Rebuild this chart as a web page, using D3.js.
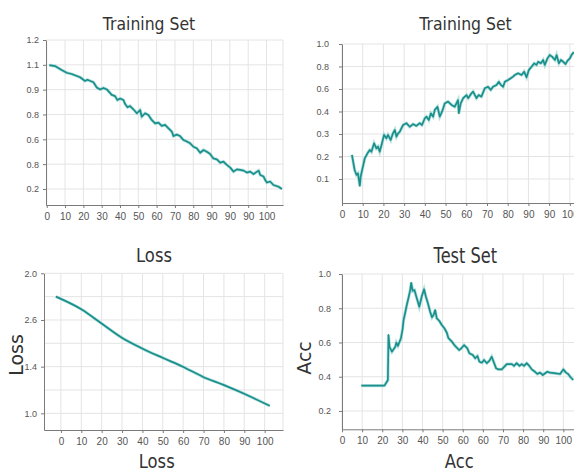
<!DOCTYPE html>
<html>
<head>
<meta charset="utf-8">
<script src="https://cdn.jsdelivr.net/npm/d3@7"></script>
<style>
body { margin: 0; background: #fff; }
svg { display: block; font-family: "DejaVu Sans", sans-serif; }
.grid line { stroke: #e4e4e4; stroke-width: 1; }
.axis path, .axis line { stroke: #7a7a7a; }
.axis text { fill: #555; }
.title, .label { fill: #333; }
</style>
</head>
<body>
<svg width="574" height="473"></svg>
<script>
// **** Tick labels (x ticks are evenly spaced 10 units apart) ****

var trainLossXLabels = ['0','10','20','30','40','50','60','70','80','90','90','90','100'];
var trainLossYLabels = ['0.2','0.8','0.6','0.8','0.9','1.1','1.2'];   // bottom to top

var trainAccXLabels = ['0','10','20','30','40','50','60','70','80','90','90','100'];
var trainAccYLabels = ['0.1','0.2','0.3','0.4','0.6','0.8','1.0'];

var lossXLabels = ['0','10','20','30','40','50','60','70','80','90','100'];
var lossYLabels = ['1.0','1.4','2.6','2.0'];

var testAccXLabels = ['0','10','20','30','40','50','60','60','70','80','90','100'];
var testAccYTicks = [0.2, 0.4, 0.6, 0.8, 1.0];

// **** Series: [x, y]; y for the first three panels is in tick steps from the lowest tick ****

var trainLoss = [
    [1.4,4.99],[4.5,4.95],[8.2,4.79],[10.9,4.68],[13.6,4.63],[18.2,4.50],[20.9,4.35],[22.2,4.40],
    [25.5,4.30],[27.3,4.09],[29.1,4.01],[31.0,4.07],[32.8,4.01],[35.5,3.79],[37.3,3.74],[38.6,3.58],
    [40.1,3.64],[41.9,3.58],[42.8,3.42],[44.1,3.29],[45.5,3.34],[47.3,3.21],[49.2,3.05],[51.0,3.18],
    [51.9,2.91],[53.7,3.05],[55.5,2.98],[57.3,2.78],[59.2,2.64],[61.0,2.67],[62.8,2.54],[64.6,2.58],
    [66.5,2.44],[68.3,2.31],[69.2,2.13],[71.0,2.19],[72.8,2.13],[74.7,1.97],[76.5,1.91],[78.3,1.84],
    [80.1,1.70],[81.9,1.64],[83.8,1.46],[85.6,1.57],[87.4,1.50],[89.2,1.41],[91.0,1.23],[92.9,1.19],
    [94.7,1.06],[96.5,1.10],[98.3,0.97],[100.2,0.86],[102.0,0.70],[103.8,0.79],[105.6,0.77],[107.5,0.74],
    [109.3,0.66],[111.1,0.70],[112.9,0.60],[114.8,0.70],[115.7,0.74],[116.6,0.56],[118.4,0.50],[119.3,0.36],
    [120.2,0.26],[122.0,0.30],[123.8,0.16],[126.6,0.09],[128.4,0.00]
];

var trainAcc = [
    [4.8,1.07],[6.1,0.40],[7.0,0.18],[7.7,0.25],[8.6,-0.31],[9.0,0.10],[10.1,0.55],[11.0,0.92],
    [12.3,1.14],[13.4,1.29],[14.2,1.21],[15.5,1.59],[16.6,1.36],[17.4,1.44],[18.2,1.21],[19.3,1.59],
    [20.3,1.96],[21.4,1.81],[22.2,1.96],[23.5,1.73],[24.6,2.03],[25.5,2.18],[26.3,1.88],[27.1,2.03],
    [27.9,2.10],[29.5,2.40],[31.1,2.48],[32.7,2.32],[34.3,2.44],[35.9,2.36],[37.5,2.48],[38.6,2.40],
    [40.0,2.70],[40.8,2.77],[41.9,2.62],[42.9,2.92],[44.0,2.77],[44.8,3.07],[46.1,3.21],[47.2,2.77],
    [48.3,2.99],[49.6,3.36],[51.2,3.44],[52.9,3.29],[54.4,3.21],[56.0,3.51],[56.4,2.92],[57.3,3.36],
    [58.5,3.59],[60.1,3.73],[60.9,3.59],[62.5,3.81],[63.3,3.88],[64.9,3.59],[66.0,3.73],[67.3,3.66],
    [68.9,4.03],[70.5,4.10],[71.8,3.96],[72.9,4.10],[74.6,4.18],[75.7,4.32],[76.7,4.18],[77.8,4.10],
    [78.6,4.32],[80.2,4.40],[81.5,4.48],[82.6,4.55],[83.4,4.62],[85.0,4.70],[86.7,4.62],[87.9,4.77],
    [89.1,4.52],[90.2,4.84],[91.5,4.99],[92.8,5.14],[93.9,5.07],[94.7,5.21],[96.0,5.14],[97.1,5.29],
    [97.9,5.07],[99.2,5.36],[100.3,5.51],[101.4,5.44],[102.8,5.29],[103.6,5.51],[104.7,5.14],[105.7,5.29],
    [106.8,5.21],[107.9,5.11],[108.9,5.26],[110.0,5.36],[110.8,5.51],[111.9,5.64]
];

var loss = [
    [-2.5,2.50],[10,2.23],[19.8,1.93],[29.9,1.62],[39.9,1.39],[49.9,1.19],
    [59.8,1.00],[69.8,0.78],[79.8,0.61],[89.4,0.43],[102.5,0.16]
];

var testAcc = [
    [9.6,0.348],[21.1,0.348],[22.3,0.371],[22.8,0.381],[23.1,0.644],[23.6,0.575],[24.8,0.546],[26.5,0.575],
    [27.0,0.599],[27.8,0.580],[29.3,0.625],[30.1,0.677],[30.6,0.731],[31.4,0.774],[32.2,0.819],[33.0,0.858],
    [33.9,0.906],[34.4,0.949],[35.1,0.902],[36.0,0.906],[36.7,0.877],[37.7,0.838],[38.4,0.809],[39.0,0.838],
    [39.7,0.872],[40.8,0.911],[41.7,0.867],[42.7,0.829],[43.8,0.780],[44.7,0.747],[45.5,0.761],[46.3,0.790],
    [47.1,0.741],[48.3,0.727],[49.6,0.702],[50.9,0.683],[52.1,0.657],[52.9,0.625],[54.6,0.605],[56.2,0.580],
    [58.2,0.556],[59.3,0.566],[60.7,0.585],[62.3,0.566],[63.3,0.537],[65.0,0.527],[66.2,0.508],[67.3,0.521],
    [68.3,0.488],[69.5,0.482],[70.6,0.498],[72.0,0.479],[73.3,0.494],[74.4,0.517],[76.6,0.449],[77.7,0.443],
    [79.4,0.443],[81.9,0.474],[84.4,0.474],[85.5,0.463],[86.8,0.479],[88.2,0.463],[89.3,0.474],[90.5,0.463],
    [91.8,0.479],[93.1,0.463],[94.3,0.443],[95.9,0.429],[97.1,0.416],[98.4,0.424],[99.8,0.410],[102.0,0.429],
    [103.4,0.424],[106.3,0.420],[108.4,0.416],[110.0,0.443],[111.3,0.424],[112.4,0.416],[113.6,0.397],[114.9,0.381]
];

var svg = d3.select('svg');

// **** one panel: grid, axes, line ****

function drawPanel(p) {
    var g = svg.append('g');
    var x0 = p.x.range()[0], x1 = p.x.range()[1];
    var y0 = p.y.range()[0], y1 = p.y.range()[1];

    var grid = g.append('g').attr('class', 'grid');
    grid.selectAll('.gx').data(p.xGrid).enter().append('line')
        .attr('x1', function(d) { return p.x(d); })
        .attr('x2', function(d) { return p.x(d); })
        .attr('y1', y0).attr('y2', y1);
    grid.selectAll('.gy').data(p.yGrid).enter().append('line')
        .attr('x1', x0).attr('x2', x1)
        .attr('y1', function(d) { return p.y(d); })
        .attr('y2', function(d) { return p.y(d); });

    g.append('g').attr('class', 'axis')
        .attr('transform', 'translate(0,' + y0 + ')')
        .call(d3.axisBottom(p.x).tickValues(p.xTicks).tickFormat(function(d, i) { return p.xLabels[i]; })
            .tickSize(3).tickSizeOuter(0).tickPadding(5))
        .selectAll('text').style('font-size', '10px');

    g.append('g').attr('class', 'axis')
        .attr('transform', 'translate(' + x0 + ',0)')
        .call(d3.axisLeft(p.y).tickValues(p.yTicks).tickFormat(function(d, i) { return p.yLabels[i]; })
            .tickSize(3).tickSizeOuter(0).tickPadding(p.yPad))
        .selectAll('text').style('font-size', '9px');

    var line = d3.line()
        .x(function(d) { return p.x(d[0]); })
        .y(function(d) { return p.y(d[1]); })
        .curve(p.curve || d3.curveLinear);

    g.append('path').datum(p.data)
        .attr('d', line)
        .attr('fill', 'none')
        .attr('stroke', '#86d0cc')
        .attr('stroke-width', 3.2)
        .attr('stroke-opacity', 0.6);
    g.append('path').datum(p.data)
        .attr('d', line)
        .attr('fill', 'none')
        .attr('stroke', '#1b8f8b')
        .attr('stroke-width', 1.7)
        .attr('stroke-linejoin', 'round');
}

function steps(labels, size) {
    return labels.map(function(d, i) { return i * size; });
}

function addText(cls, txt, x, y, size, sx, rot) {
    svg.append('text')
        .attr('class', cls)
        .attr('text-anchor', 'middle')
        .attr('transform', 'translate(' + x + ',' + y + ')' + (rot ? ' rotate(' + rot + ')' : '') + ' scale(' + sx + ',1)')
        .style('font-size', size + 'px')
        .text(txt);
}

// **** Training Set (loss) ****
drawPanel({
    x: d3.scaleLinear().domain([-0.4, 129]).range([46, 283]),
    y: d3.scaleLinear().domain([-0.645, 6]).range([205, 40]),
    xTicks: steps(trainLossXLabels, 10), xLabels: trainLossXLabels,
    yTicks: steps(trainLossYLabels, 1), yLabels: trainLossYLabels,
    xGrid: steps(trainLossXLabels, 10).concat([129]),
    yGrid: steps(trainLossYLabels, 1),
    yPad: 4,
    data: trainLoss
});

// **** Training Set (acc) ****
drawPanel({
    x: d3.scaleLinear().domain([0, 112]).range([342, 574]),
    y: d3.scaleLinear().domain([-1.067, 6]).range([203, 44]),
    xTicks: steps(trainAccXLabels, 10), xLabels: trainAccXLabels,
    yTicks: steps(trainAccYLabels, 1), yLabels: trainAccYLabels,
    xGrid: steps(trainAccXLabels, 10),
    yGrid: steps(trainAccYLabels, 1),
    yPad: 10,
    data: trainAcc
});

// **** Loss ****
drawPanel({
    x: d3.scaleLinear().domain([-8.3, 109]).range([44, 283]),
    y: d3.scaleLinear().domain([-0.357, 3]).range([430, 273.3]),
    xTicks: steps(lossXLabels, 10), xLabels: lossXLabels,
    yTicks: steps(lossYLabels, 1), yLabels: lossYLabels,
    xGrid: steps(lossXLabels, 10).concat([109]),
    yGrid: d3.range(0, 3.01, 0.5),
    yPad: 4,
    curve: d3.curveMonotoneX,
    data: loss
});

// **** Test Set ****
drawPanel({
    x: d3.scaleLinear().domain([0, 115.3]).range([342, 574]),
    y: d3.scaleLinear().domain([0.093, 1.0]).range([429.3, 274]),
    xTicks: steps(testAccXLabels, 10), xLabels: testAccXLabels,
    yTicks: testAccYTicks, yLabels: testAccYTicks.map(d3.format('.1f')),
    xGrid: steps(testAccXLabels, 10),
    yGrid: testAccYTicks,
    yPad: 8,
    data: testAcc
});

// **** Titles and labels ****
addText('title', 'Training Set', 149, 29.5, 18, 0.87);
addText('title', 'Training Set', 465.5, 30, 18, 0.87);
addText('title', 'Loss', 154, 261.5, 20, 0.82);
addText('title', 'Test Set', 465.3, 262.5, 21, 0.77);
addText('label', 'Loss', 156.7, 467.5, 20, 0.82);
addText('label', 'Acc', 459.3, 467.5, 20, 0.82);
addText('label', 'Loss', 22.5, 355, 19, 1, -90);
addText('label', 'Acc', 310.5, 358, 19, 1, -90);
</script>
</body>
</html>
